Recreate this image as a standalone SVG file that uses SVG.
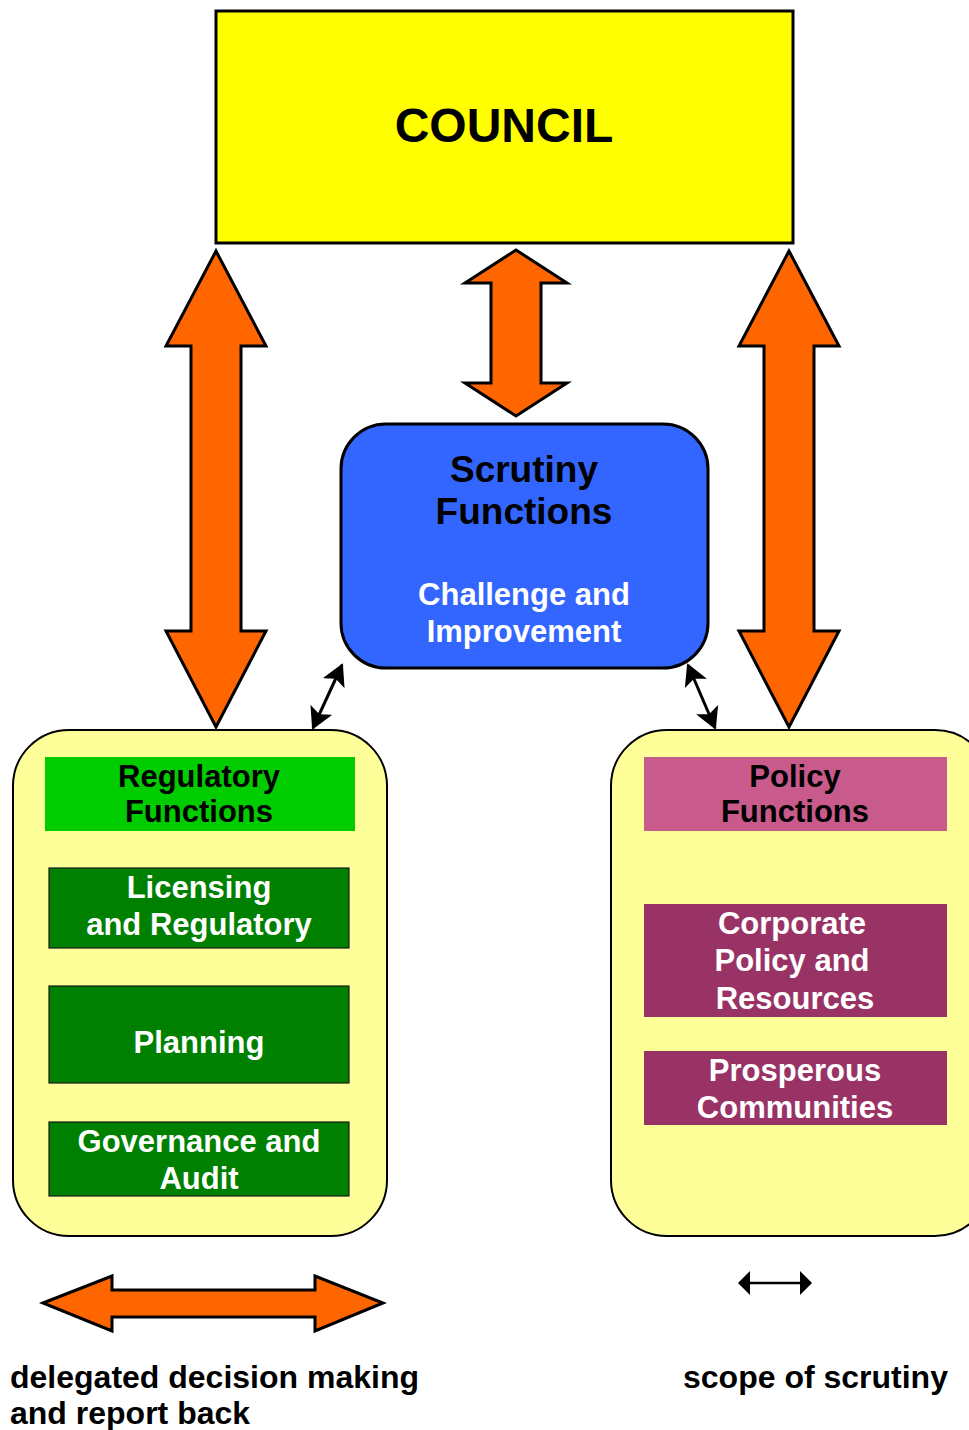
<svg xmlns="http://www.w3.org/2000/svg" width="969" height="1430" viewBox="0 0 969 1430">
<defs>
<style>
text{font-family:"Liberation Sans",Arial,sans-serif;font-weight:bold;text-anchor:middle}
.big{fill:#FF6600;stroke:#000;stroke-width:3;stroke-linejoin:miter}
.t31{font-size:31px}
.t32{font-size:32px}
.w{fill:#fff}
.k{fill:#000}
.thin{stroke:#000;stroke-width:3;fill:none}
.sub{stroke:#1a1a1a;stroke-width:1.2}
</style>
<marker id="ah" viewBox="0 0 22 24" refX="20" refY="12" markerWidth="22" markerHeight="24" markerUnits="userSpaceOnUse" orient="auto-start-reverse">
<path d="M0,0 L22,12 L0,24 L5,12 Z" fill="#000"/>
</marker>
<marker id="ahs" viewBox="0 0 12 24" refX="11" refY="12" markerWidth="12" markerHeight="24" markerUnits="userSpaceOnUse" orient="auto-start-reverse">
<path d="M0,0 L12,12 L0,24 Z" fill="#000"/>
</marker>
</defs>

<g id="council">
<rect x="216" y="11" width="577" height="232" fill="#FFFF00" stroke="#000" stroke-width="3"/>
<text x="504" y="142" style="font-size:48px" class="k">COUNCIL</text>
</g>

<g id="scrutiny">
<rect x="341" y="424" width="367" height="244" rx="45" ry="45" fill="#3366FF" stroke="#000" stroke-width="3"/>
<text x="524" y="482" style="font-size:37px" class="k">Scrutiny</text>
<text x="524" y="524" style="font-size:37px" class="k">Functions</text>
<text x="524" y="605" class="t31 w">Challenge and</text>
<text x="524" y="642" class="t31 w">Improvement</text>
</g>

<g id="regulatory-group">
<rect x="13" y="730" width="374" height="506" rx="56" ry="56" fill="#FFFF99" stroke="#000" stroke-width="2"/>
</g>
<g id="regulatory-functions">
<rect x="45" y="757" width="310" height="74" fill="#00CC00"/>
<text x="199" y="787" class="t31 k">Regulatory</text>
<text x="199" y="822" class="t31 k">Functions</text>
</g>
<g id="licensing">
<rect x="49" y="868" width="300" height="80" fill="#008000" class="sub"/>
<text x="199" y="898" class="t31 w">Licensing</text>
<text x="199" y="935" class="t31 w">and Regulatory</text>
</g>
<g id="planning">
<rect x="49" y="986" width="300" height="97" fill="#008000" class="sub"/>
<text x="199" y="1053" class="t31 w">Planning</text>
</g>
<g id="governance">
<rect x="49" y="1122" width="300" height="74" fill="#008000" class="sub"/>
<text x="199" y="1152" class="t31 w">Governance and</text>
<text x="199" y="1189" class="t31 w">Audit</text>
</g>

<g id="policy-group">
<rect x="611" y="730" width="380" height="506" rx="56" ry="56" fill="#FFFF99" stroke="#000" stroke-width="2"/>
</g>
<g id="policy-functions">
<rect x="644" y="757" width="303" height="74" fill="#C85A8C"/>
<text x="795" y="787" class="t31 k">Policy</text>
<text x="795" y="822" class="t31 k">Functions</text>
</g>
<g id="corporate">
<rect x="644" y="904" width="303" height="113" fill="#993366"/>
<text x="792" y="934" class="t31 w">Corporate</text>
<text x="792" y="971" class="t31 w">Policy and</text>
<text x="795" y="1009" class="t31 w">Resources</text>
</g>
<g id="prosperous">
<rect x="644" y="1051" width="303" height="74" fill="#993366"/>
<text x="795" y="1081" class="t31 w">Prosperous</text>
<text x="795" y="1118" class="t31 w">Communities</text>
</g>

<g id="connectors">
<polygon class="big" points="216,251 266,346 241,346 241,631 266,631 216,727 166,631 191,631 191,346 166,346"/>
<polygon class="big" points="789,251 839,346 814,346 814,631 839,631 789,727 739,631 764,631 764,346 739,346"/>
<polygon class="big" points="516,250 567,283 541,283 541,383 567,383 516,416 465,383 491,383 491,283 465,283"/>
<line class="thin" x1="342" y1="665" x2="313" y2="728" marker-start="url(#ah)" marker-end="url(#ah)"/>
<line class="thin" x1="688" y1="665" x2="715" y2="728" marker-start="url(#ah)" marker-end="url(#ah)"/>
</g>

<g id="legend">
<polygon class="big" points="43,1303 112,1276 112,1290 315,1290 315,1276 383,1303 315,1331 315,1317 112,1317 112,1331"/>
<line x1="739" y1="1283" x2="811" y2="1283" stroke="#000" stroke-width="2.5" marker-start="url(#ahs)" marker-end="url(#ahs)"/>
<text x="10" y="1388" class="t32 k" style="text-anchor:start">delegated decision making</text>
<text x="10" y="1424" class="t32 k" style="text-anchor:start">and report back</text>
<text x="683" y="1388" class="t32 k" style="text-anchor:start">scope of scrutiny</text>
</g>
</svg>
